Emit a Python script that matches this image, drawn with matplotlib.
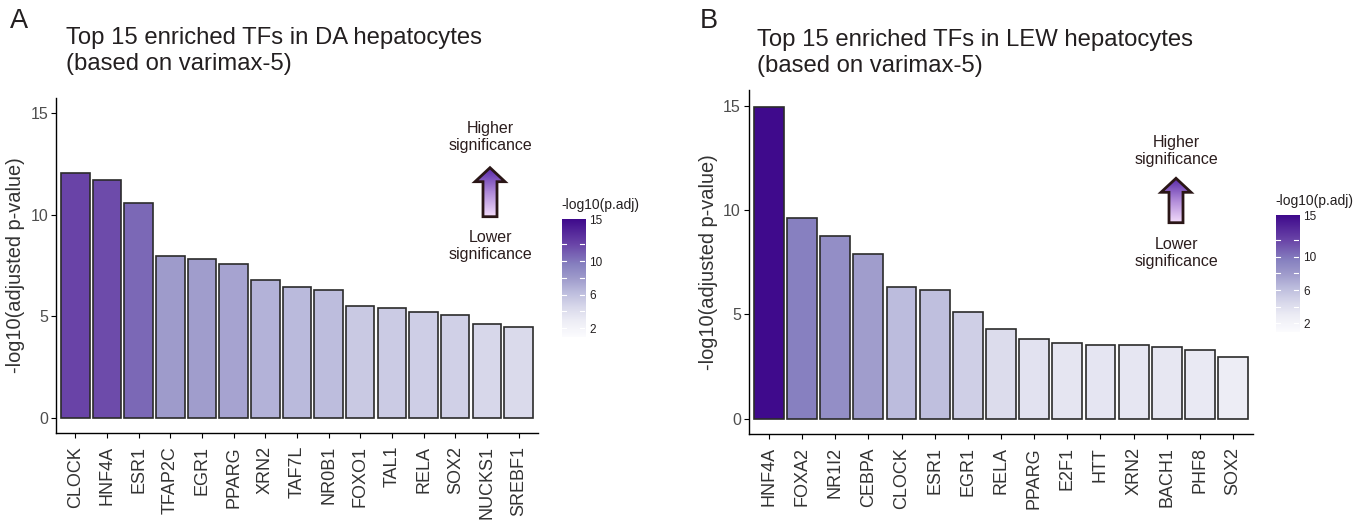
import numpy as np
import matplotlib
matplotlib.use("Agg")
import matplotlib.pyplot as plt
from matplotlib.colors import LinearSegmentedColormap, Normalize
from matplotlib.patches import Polygon

plt.rcParams["font.family"] = ["Liberation Sans", "DejaVu Sans"]

# data
tfs_da = ["CLOCK", "HNF4A", "ESR1", "TFAP2C", "EGR1", "PPARG", "XRN2", "TAF7L",
          "NR0B1", "FOXO1", "TAL1", "RELA", "SOX2", "NUCKS1", "SREBF1"]
vals_da = [12.05, 11.72, 10.58, 7.99, 7.84, 7.56, 6.81, 6.42, 6.27, 5.50, 5.42, 5.19, 5.08, 4.62, 4.49]

tfs_lew = ["HNF4A", "FOXA2", "NR1I2", "CEBPA", "CLOCK", "ESR1", "EGR1", "RELA", "PPARG",
           "E2F1", "HTT", "XRN2", "BACH1", "PHF8", "SOX2"]
vals_lew = [14.95, 9.61, 8.77, 7.87, 6.33, 6.17, 5.13, 4.29, 3.84, 3.62, 3.54, 3.51, 3.43, 3.27, 2.95]

title_da = "Top 15 enriched TFs in DA hepatocytes\n(based on varimax-5)"
title_lew = "Top 15 enriched TFs in LEW hepatocytes\n(based on varimax-5)"

# colour scale (like ggplot gradient white -> dark purple)
cmap = LinearSegmentedColormap.from_list("purp", [
    (0.0, "#fcfcfe"), (0.143, "#ececf5"), (0.25, "#d9d9eb"), (0.38, "#bcbcdd"),
    (0.5, "#9e9acb"), (0.614, "#8781c0"), (0.786, "#6a45a8"), (1.0, "#3f0a8c")])
norm = Normalize(vmin=1.0, vmax=15.0)

W, H = 1365, 520
fig = plt.figure(figsize=(W / 100, H / 100), dpi=100)


def px(x0, y0, x1, y1):
    # pixel box -> figure fraction rect
    return [x0 / W, 1 - y1 / H, (x1 - x0) / W, (y1 - y0) / H]


def draw_panel(rect, names, vals, label, title, lab_xy, title_xy, cb_rect, arrow_x, arrow_top, arrow_bot,
               hi_y, lo_y):
    ax = fig.add_axes(px(*rect))
    x = np.arange(len(names))
    ax.bar(x, vals, width=0.9, color=cmap(norm(np.array(vals))), edgecolor="#2b2b2b", linewidth=1.2)
    ax.set_xlim(-0.6, len(names) - 0.4)
    ax.set_ylim(-0.75, 15.75)
    ax.set_yticks([0, 5, 10, 15])
    ax.set_xticks(x)
    ax.set_xticklabels(names, rotation=90, fontsize=13, color="#333333")
    ax.tick_params(axis="y", labelsize=11.5, labelcolor="#4d4d4d", length=3.3, width=0.8, pad=2.5)
    ax.tick_params(axis="x", length=3.3, width=0.8, pad=6)
    for s in ["top", "right"]:
        ax.spines[s].set_visible(False)
    for s in ["left", "bottom"]:
        ax.spines[s].set_linewidth(1.0)
    ax.set_ylabel("-log10(adjusted p-value)", fontsize=14.4, color="#333333", labelpad=4)

    fig.text(lab_xy[0] / W, 1 - lab_xy[1] / H, label, fontsize=19.5, color="#231f20", va="center", ha="left")
    fig.text(title_xy[0] / W, 1 - title_xy[1] / H, title, fontsize=17.2, color="#231f20",
             va="center", ha="left", linespacing=1.2)

    # colorbar
    cax = fig.add_axes(px(*cb_rect))
    grad = np.linspace(1.0, 15.0, 256).reshape(-1, 1)
    cax.imshow(grad, aspect="auto", cmap=cmap, norm=norm, origin="lower", extent=[0, 1, 1.0, 15.0])
    cax.set_xlim(0, 1)
    cax.set_ylim(1.0, 15.0)
    for t in [2, 4, 6, 8, 10, 12]:
        cax.plot([0, 0.2], [t, t], color="white", lw=0.8)
        cax.plot([0.8, 1], [t, t], color="white", lw=0.8)
    cax.set_xticks([])
    cax.yaxis.tick_right()
    cax.set_yticks([2, 6, 10, 15])
    cax.tick_params(axis="y", length=0, labelsize=8.5, labelcolor="#231f20", pad=3)
    for s in cax.spines.values():
        s.set_visible(False)
    fig.text(cb_rect[0] / W, 1 - (cb_rect[1] - 14) / H, "-log10(p.adj)", fontsize=10, color="#231f20",
             va="center", ha="left")

    # significance arrow with gradient fill
    ov = fig.add_axes([0, 0, 1, 1], facecolor="none")
    ov.set_xlim(0, W)
    ov.set_ylim(H, 0)
    ov.axis("off")
    head = arrow_top + 14
    pts = [(arrow_x - 7, arrow_bot), (arrow_x + 7, arrow_bot), (arrow_x + 7, head), (arrow_x + 15, head),
           (arrow_x, arrow_top), (arrow_x - 15, head), (arrow_x - 7, head)]
    poly = Polygon(pts, closed=True, facecolor="none", edgecolor="#2a1616", lw=2.0, zorder=3,
                   joinstyle="miter")
    ov.add_patch(poly)
    acmap = LinearSegmentedColormap.from_list("arr", ["#f3dcfb", "#b08ad8", "#5a2aa8"])
    g = np.linspace(0, 1, 100).reshape(-1, 1)
    im = ov.imshow(g, cmap=acmap, aspect="auto", origin="lower",
                   extent=[arrow_x - 15, arrow_x + 15, arrow_bot, arrow_top], zorder=2)
    im.set_clip_path(poly)
    ov.set_xlim(0, W)
    ov.set_ylim(H, 0)
    ov.text(arrow_x, hi_y, "Higher\nsignificance", fontsize=11.5, color="#2b1d1d", ha="center",
            va="center", linespacing=1.15)
    ov.text(arrow_x, lo_y, "Lower\nsignificance", fontsize=11.5, color="#2b1d1d", ha="center",
            va="center", linespacing=1.15)


draw_panel((56.4, 98, 537.5, 433), tfs_da, vals_da, "A", title_da, (10, 21), (66, 51),
           (561.7, 219, 585, 336.7), 490, 167.7, 216.7, 137, 246)
draw_panel((749, 90, 1253, 434.3), tfs_lew, vals_lew, "B", title_lew, (700, 21), (757, 53),
           (1275.7, 215, 1299, 331.7), 1176, 178.3, 222.7, 151, 253)

fig.savefig("out.png", dpi=100)
